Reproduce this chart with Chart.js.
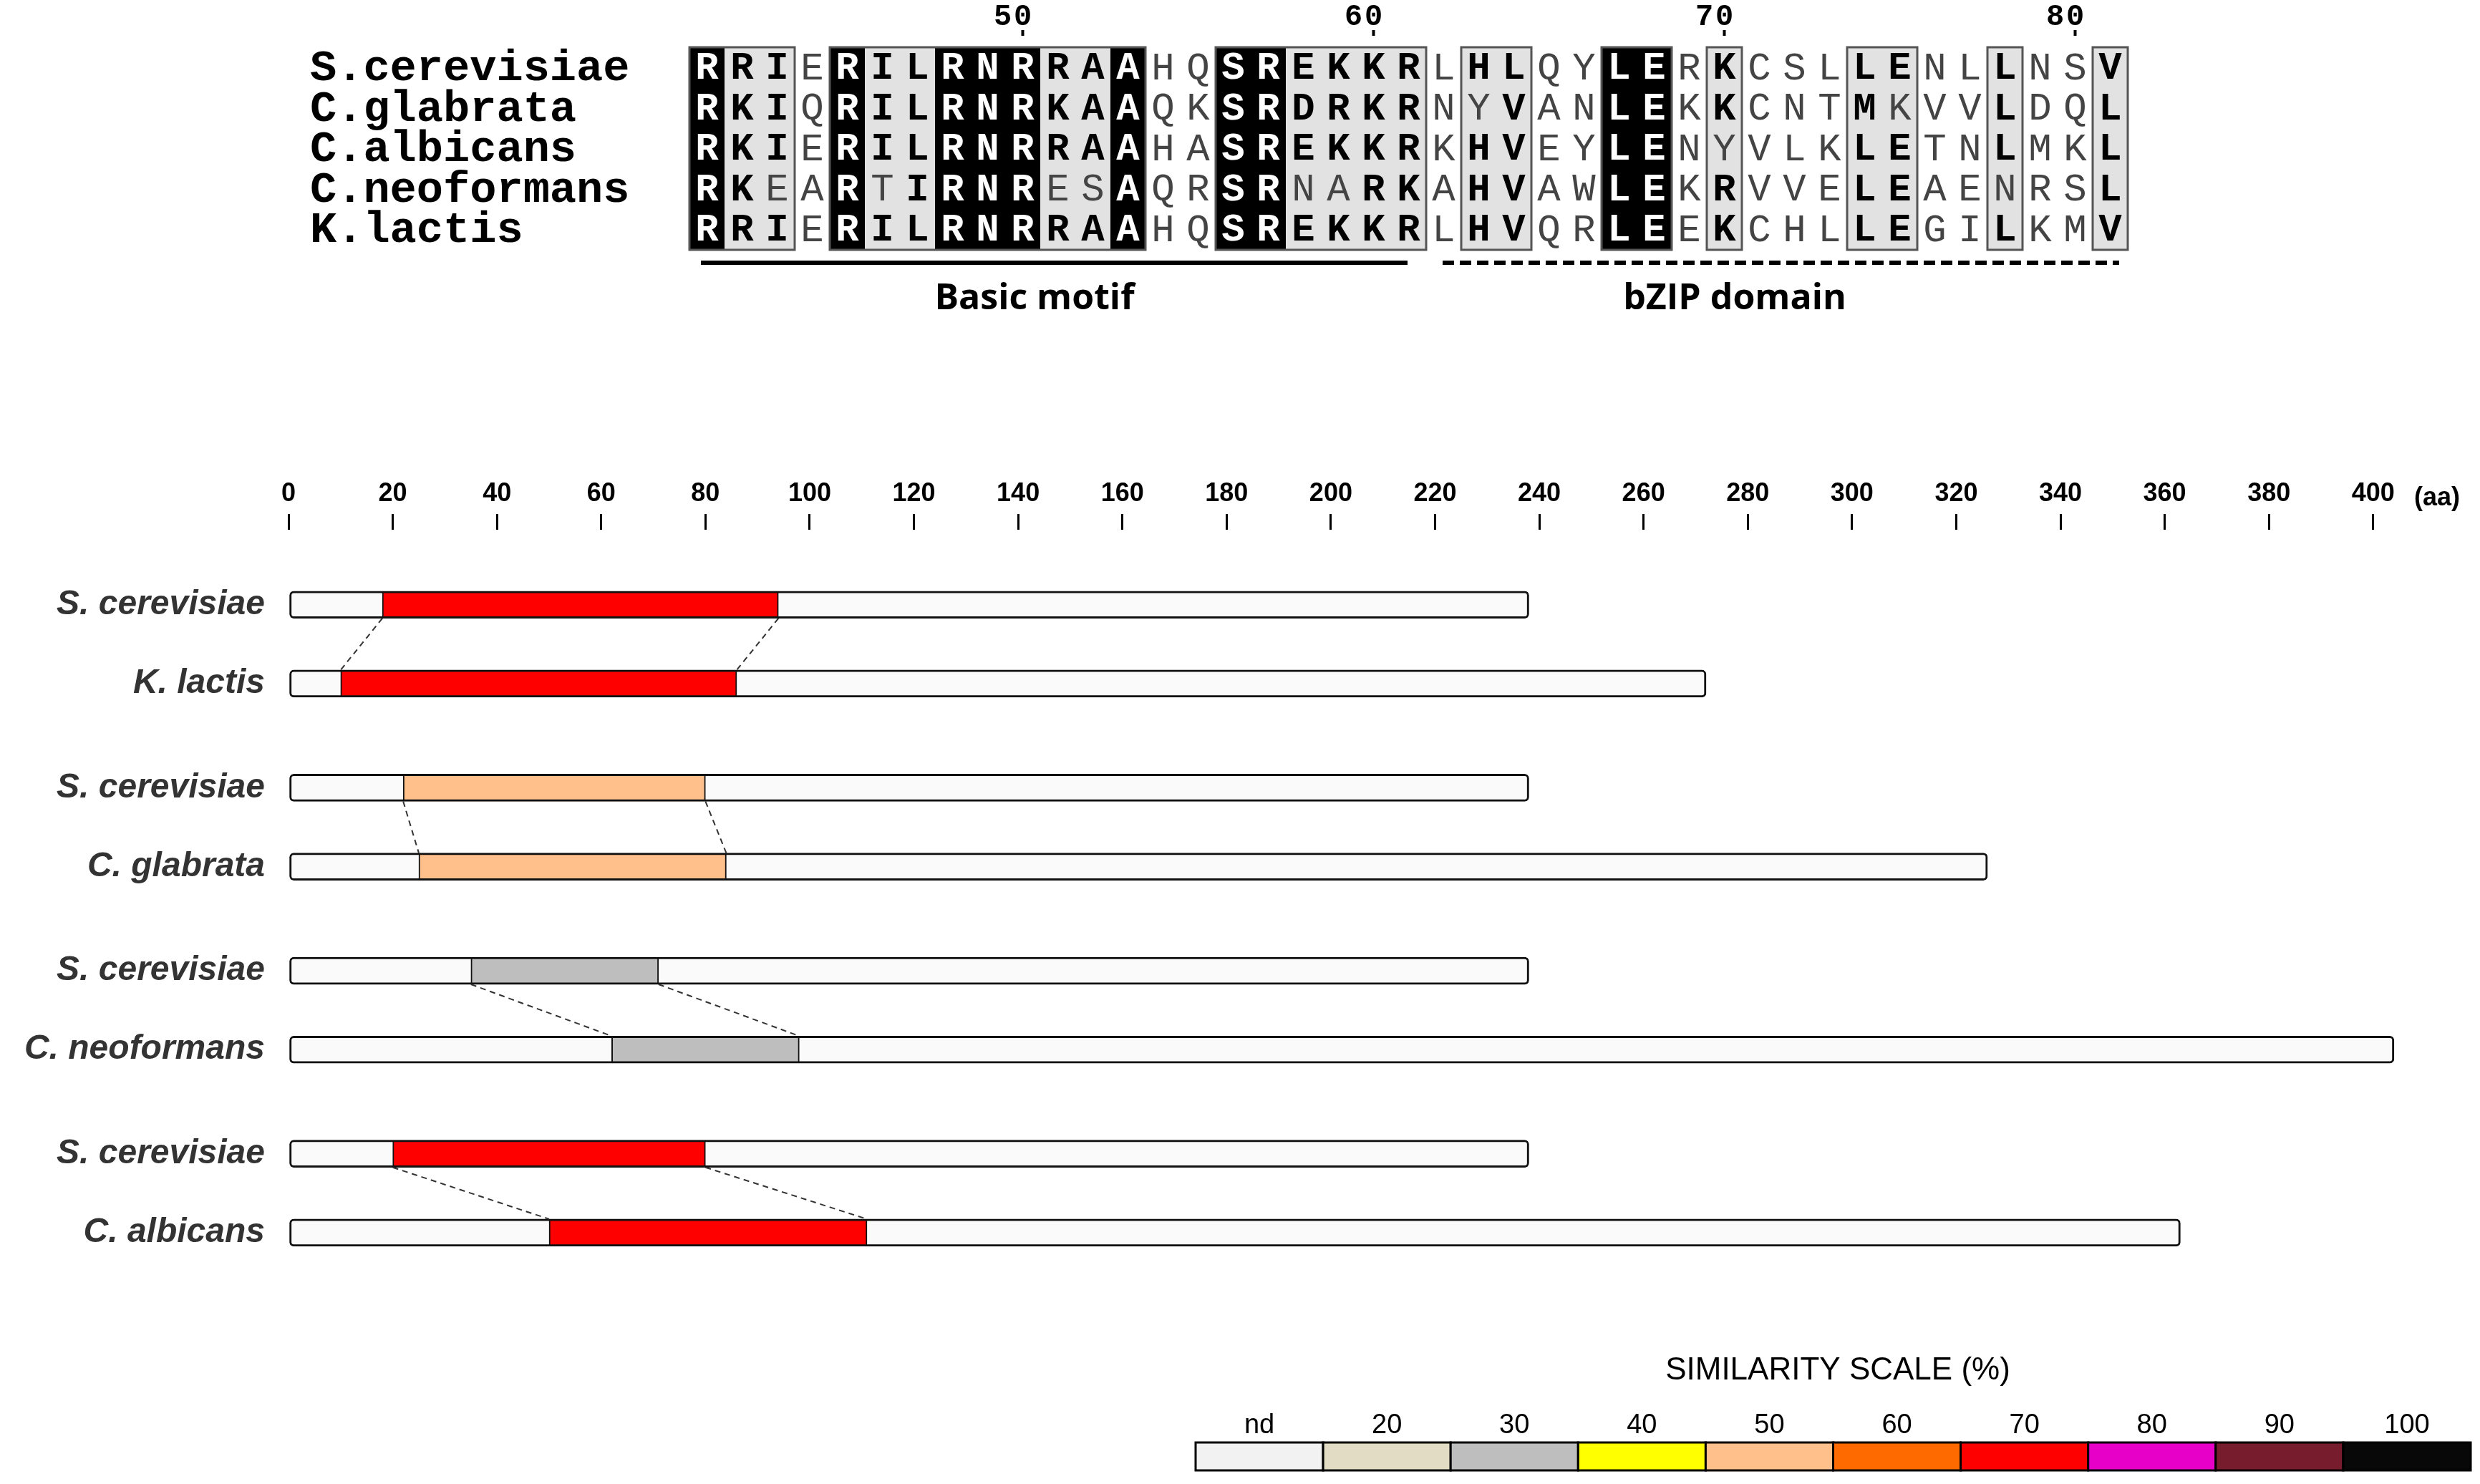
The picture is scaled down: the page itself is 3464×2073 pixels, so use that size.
<!DOCTYPE html>
<html>
<head>
<meta charset="utf-8">
<script src="https://cdn.jsdelivr.net/npm/chart.js@4"></script>
<style>
  html, body { margin: 0; padding: 0; background: #fff; }
  canvas { display: block; }
</style>
</head>
<body>
<canvas id="mapa" width="3464" height="2073"></canvas>
<script>
// ---- alignment data ----
const seqNames = ['S.cerevisiae', 'C.glabrata', 'C.albicans', 'C.neoformans', 'K.lactis'];
// lowercase = non-conserved residue inside a shaded column
const seqRows = [
    'RRIERILRNRRAAHQSREKKRLHLQYLERKCSLLENLLNSV',
    'RKIQRILRNRKAAQKSRDRKRNyVANLEKKCNTMkVVLDQL',
    'RKIERILRNRRAAHASREKKRKHVEYLENyVLKLETNLMKL',
    'RKeARtIRNResAQRSRnaRKAHVAWLEKRVVELEAEnRSL',
    'RRIERILRNRRAAHQSREKKRLHVQRLEEKCHLLEGILKMV'
];
// b = identical (black), g = similar (grey), - = none
const colTypes = 'bgg-bggbbbggb--bbgggg-gg--bb-g---gg--g--g';
const rulerLabels = ['50', '60', '70', '80'];
const rulerCols = [9, 19, 29, 39];

// ---- domain map data ----
const rowNames = ['S. cerevisiae', 'K. lactis', 'S. cerevisiae', 'C. glabrata',
                  'S. cerevisiae', 'C. neoformans', 'S. cerevisiae', 'C. albicans'];
const rowPos = [0, 1, 2.32, 3.32, 4.64, 5.64, 6.96, 7.96];
const proteinLen = [238, 272, 238, 326, 238, 404, 238, 363];
const segStart = [18, 10, 22, 25, 35, 62, 20, 50];
const segEnd = [94, 86, 80, 84, 71, 98, 80, 111];
const segSimilarity = [70, 70, 50, 50, 30, 30, 70, 70];

// ---- similarity scale ----
const scaleLabels = ['nd', '20', '30', '40', '50', '60', '70', '80', '90', '100'];
const scaleColors = ['#f2f2f2', '#e3dcc4', '#bebebe', '#ffff00', '#ffc08c',
                     '#ff6a00', '#ff0000', '#e600c8', '#761c2c', '#080808'];

function corSimilaridade(v) {
    return scaleColors[scaleLabels.indexOf(String(v))];
}

const extras = {
    id: 'extras',
    afterDraw(chart) {
        const ctx = chart.ctx;
        const x = chart.scales.x, y = chart.scales.y;
        ctx.save();

        // ===== alinhamento =====
        const x0 = 963, colW = 49, top = 66, rowH = 56.6;
        ctx.textBaseline = 'middle';
        ctx.font = 'bold 62px "Liberation Mono"';
        ctx.fillStyle = '#000';
        ctx.textAlign = 'left';
        seqNames.forEach((n, i) => ctx.fillText(n, 433, top + rowH * (i + 0.5) + 2));

        // fundo das colunas
        for (let c = 0; c < colTypes.length; c++) {
            const t = colTypes[c];
            if (t === '-') continue;
            ctx.fillStyle = t === 'b' ? '#000' : '#e2e2e2';
            ctx.fillRect(x0 + c * colW, top, colW + 0.5, rowH * 5);
        }
        // caixas dos blocos
        ctx.strokeStyle = '#555';
        ctx.lineWidth = 3;
        let c = 0;
        while (c < colTypes.length) {
            if (colTypes[c] === '-') { c++; continue; }
            let e = c;
            while (e + 1 < colTypes.length && colTypes[e + 1] !== '-') e++;
            ctx.strokeRect(x0 + c * colW, top, (e - c + 1) * colW, rowH * 5);
            c = e + 1;
        }
        // letras
        ctx.textAlign = 'center';
        seqRows.forEach((s, r) => {
            for (let k = 0; k < s.length; k++) {
                const ch = s[k], t = colTypes[k];
                const fraco = t === '-' || ch !== ch.toUpperCase();
                ctx.font = (fraco ? '' : 'bold ') + '54px "Liberation Mono"';
                ctx.fillStyle = t === 'b' ? '#fff' : (fraco ? '#444' : '#000');
                ctx.fillText(ch.toUpperCase(), x0 + (k + 0.5) * colW, top + rowH * (r + 0.5) + 2);
            }
        });
        // régua
        ctx.fillStyle = '#000';
        ctx.font = 'bold 42px "Liberation Mono"';
        rulerLabels.forEach((l, i) => {
            const cx = x0 + (rulerCols[i] + 0.5) * colW;
            ctx.textAlign = 'center';
            ctx.fillText(l[0], cx - 28, 24);
            ctx.fillText(l[1], cx, 24);
            ctx.fillRect(cx - 2, 42, 4, 8);
        });
        // motivos
        ctx.lineWidth = 6;
        ctx.strokeStyle = '#000';
        ctx.beginPath(); ctx.moveTo(979, 367); ctx.lineTo(1966, 367); ctx.stroke();
        ctx.setLineDash([16, 8]);
        ctx.beginPath(); ctx.moveTo(2015, 367); ctx.lineTo(2960, 367); ctx.stroke();
        ctx.setLineDash([]);
        ctx.font = 'bold 50px "Open Sans"';
        ctx.textAlign = 'center';
        ctx.fillText('Basic motif', 1445, 418);
        ctx.fillText('bZIP domain', 2423, 418);

        // ===== ligações tracejadas entre pares =====
        const half = 19;
        ctx.strokeStyle = '#333';
        ctx.lineWidth = 2;
        ctx.setLineDash([8, 6]);
        for (let i = 0; i < rowPos.length; i += 2) {
            const ya = y.getPixelForValue(rowPos[i]) + half;
            const yb = y.getPixelForValue(rowPos[i + 1]) - half;
            [[segStart[i], segStart[i + 1]], [segEnd[i], segEnd[i + 1]]].forEach(([a, b]) => {
                ctx.beginPath();
                ctx.moveTo(x.getPixelForValue(a), ya);
                ctx.lineTo(x.getPixelForValue(b), yb);
                ctx.stroke();
            });
        }
        ctx.setLineDash([]);

        // unidade
        ctx.font = 'bold 36px "Liberation Sans"';
        ctx.fillStyle = '#000';
        ctx.textAlign = 'left';
        ctx.fillText('(aa)', 3372, 696);

        // ===== escala de similaridade =====
        const lx = 1670, lw = 178.1, ly = 2015, lh = 39;
        ctx.font = '44px "Liberation Sans"';
        ctx.textAlign = 'center';
        ctx.fillText('SIMILARITY SCALE (%)', 2567, 1915);
        ctx.font = '38px "Liberation Sans"';
        scaleLabels.forEach((l, i) => {
            ctx.fillStyle = scaleColors[i];
            ctx.fillRect(lx + i * lw, ly, lw, lh);
            ctx.strokeStyle = '#000';
            ctx.lineWidth = 3;
            ctx.strokeRect(lx + i * lw, ly, lw, lh);
            ctx.fillStyle = '#000';
            ctx.fillText(l, lx + (i + 0.5) * lw, 1992);
        });
        ctx.restore();
    }
};

new Chart(document.getElementById('mapa'), {
    type: 'bar',
    data: {
        datasets: [
            {
                label: 'proteína',
                data: rowPos.map((p, i) => ({ x: [0, proteinLen[i]], y: p })),
                backgroundColor: '#fafafa',
                borderColor: '#111',
                borderWidth: 3,
                borderRadius: 6,
                borderSkipped: false,
                barThickness: 38,
                order: 2
            },
            {
                label: 'região bZIP',
                data: rowPos.map((p, i) => ({ x: [segStart[i], segEnd[i]], y: p })),
                backgroundColor: segSimilarity.map(corSimilaridade),
                borderColor: '#111',
                borderWidth: 2,
                borderSkipped: false,
                barThickness: 36,
                order: 1
            }
        ]
    },
    options: {
        indexAxis: 'y',
        responsive: false,
        animation: false,
        grouped: false,
        layout: { padding: { top: 640, bottom: 221, left: 0, right: 0 } },
        plugins: { legend: { display: false }, tooltip: { enabled: false } },
        scales: {
            x: {
                type: 'linear',
                position: 'top',
                min: 0,
                max: 420.5,
                afterBuildTicks: s => {
                    const t = [];
                    for (let v = 0; v <= 400; v += 20) t.push({ value: v });
                    s.ticks = t;
                },
                afterFit: s => { s.height = 100; },
                grid: { drawOnChartArea: false, drawTicks: true, tickLength: 22, color: '#000', lineWidth: 3 },
                border: { display: false },
                ticks: { color: '#000', padding: 6, maxRotation: 0, font: { family: 'Liberation Sans', weight: 'bold', size: 36 } }
            },
            y: {
                type: 'linear',
                reverse: true,
                min: -0.32,
                max: 8.51,
                afterBuildTicks: s => { s.ticks = rowPos.map(v => ({ value: v })); },
                afterFit: s => { s.width = 403; },
                grid: { display: false },
                border: { display: false },
                ticks: {
                    callback: (v, i) => rowNames[i],
                    color: '#333',
                    padding: 25,
                    font: { family: 'Liberation Sans', weight: 'bold', style: 'italic', size: 48 }
                }
            }
        }
    },
    plugins: [extras]
});
</script>
</body>
</html>
